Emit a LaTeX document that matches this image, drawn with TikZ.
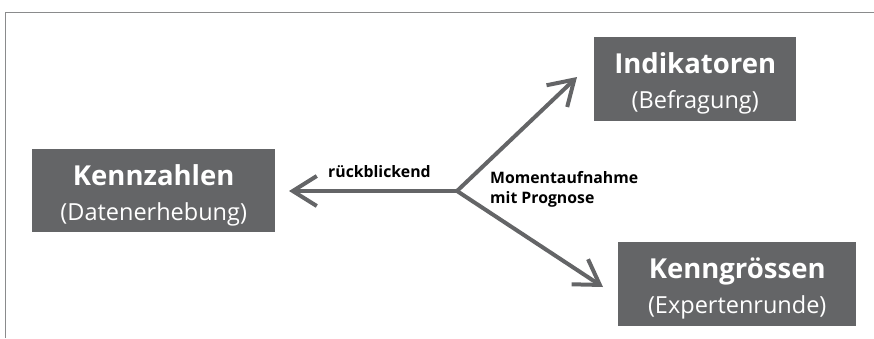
\documentclass[tikz,border=0pt]{standalone}
\usepackage{fontspec}
\setmainfont{Open Sans}
\usetikzlibrary{arrows.meta}
\definecolor{boxgray}{HTML}{646567}
\definecolor{framegray}{HTML}{8A8B8C}
\begin{document}
\begin{tikzpicture}[x=1pt,y=-1pt,
  box/.style={fill=boxgray,inner sep=0pt,anchor=north west},
  ttl/.style={text=white,inner sep=0pt,anchor=base,font=\bfseries\fontsize{27.5}{33}\selectfont},
  sub/.style={text=white,inner sep=0pt,anchor=base,font=\fontsize{23.5}{28}\selectfont},
  conn/.style={draw=boxgray,line width=4pt,-{Straight Barb[length=24pt,width=30pt,line width=4pt]}},
  lbl/.style={font=\bfseries\fontsize{15.8}{20}\selectfont,text=black,inner sep=0pt,anchor=base west}]
\useasboundingbox (0,0) rectangle (874,338);
\draw[framegray,line width=1.5pt] (5.5,338) -- (5.5,12.5) -- (874,12.5);
\node[box,minimum width=243pt,minimum height=83pt] (kz) at (32,149) {};
\node[ttl] (kzt) at ([yshift=5.5pt]kz.center) {Kennzahlen};
\node[sub] (kzs) at ([yshift=-29.5pt]kz.center) {(Datenerhebung)};
\node[box,minimum width=202pt,minimum height=84pt] (ind) at (594,37) {};
\node[ttl] (indt) at ([yshift=5.5pt]ind.center) {Indikatoren};
\node[sub] (inds) at ([yshift=-29.5pt]ind.center) {(Befragung)};
\node[box,minimum width=238pt,minimum height=84pt] (kg) at (618,242) {};
\node[ttl] (kgt) at ([yshift=5.5pt]kg.center) {Kenngrössen};
\node[sub] (kgs) at ([yshift=-29.5pt]kg.center) {(Expertenrunde)};
\coordinate (j) at (457,191);
\coordinate (tl) at (289,191);
\coordinate (tu) at (577,77);
\coordinate (td) at (603,287);
\draw[conn] (j) -- (tl);
\draw[conn] (j) -- (tu);
\draw[conn] (j) -- (td);
\node[lbl] (r) at (328,177) {rückblickend};
\node[lbl] (m1) at (490,183) {Momentaufnahme};
\node[lbl] (m2) at (490,203) {mit Prognose};
\end{tikzpicture}
\end{document}
